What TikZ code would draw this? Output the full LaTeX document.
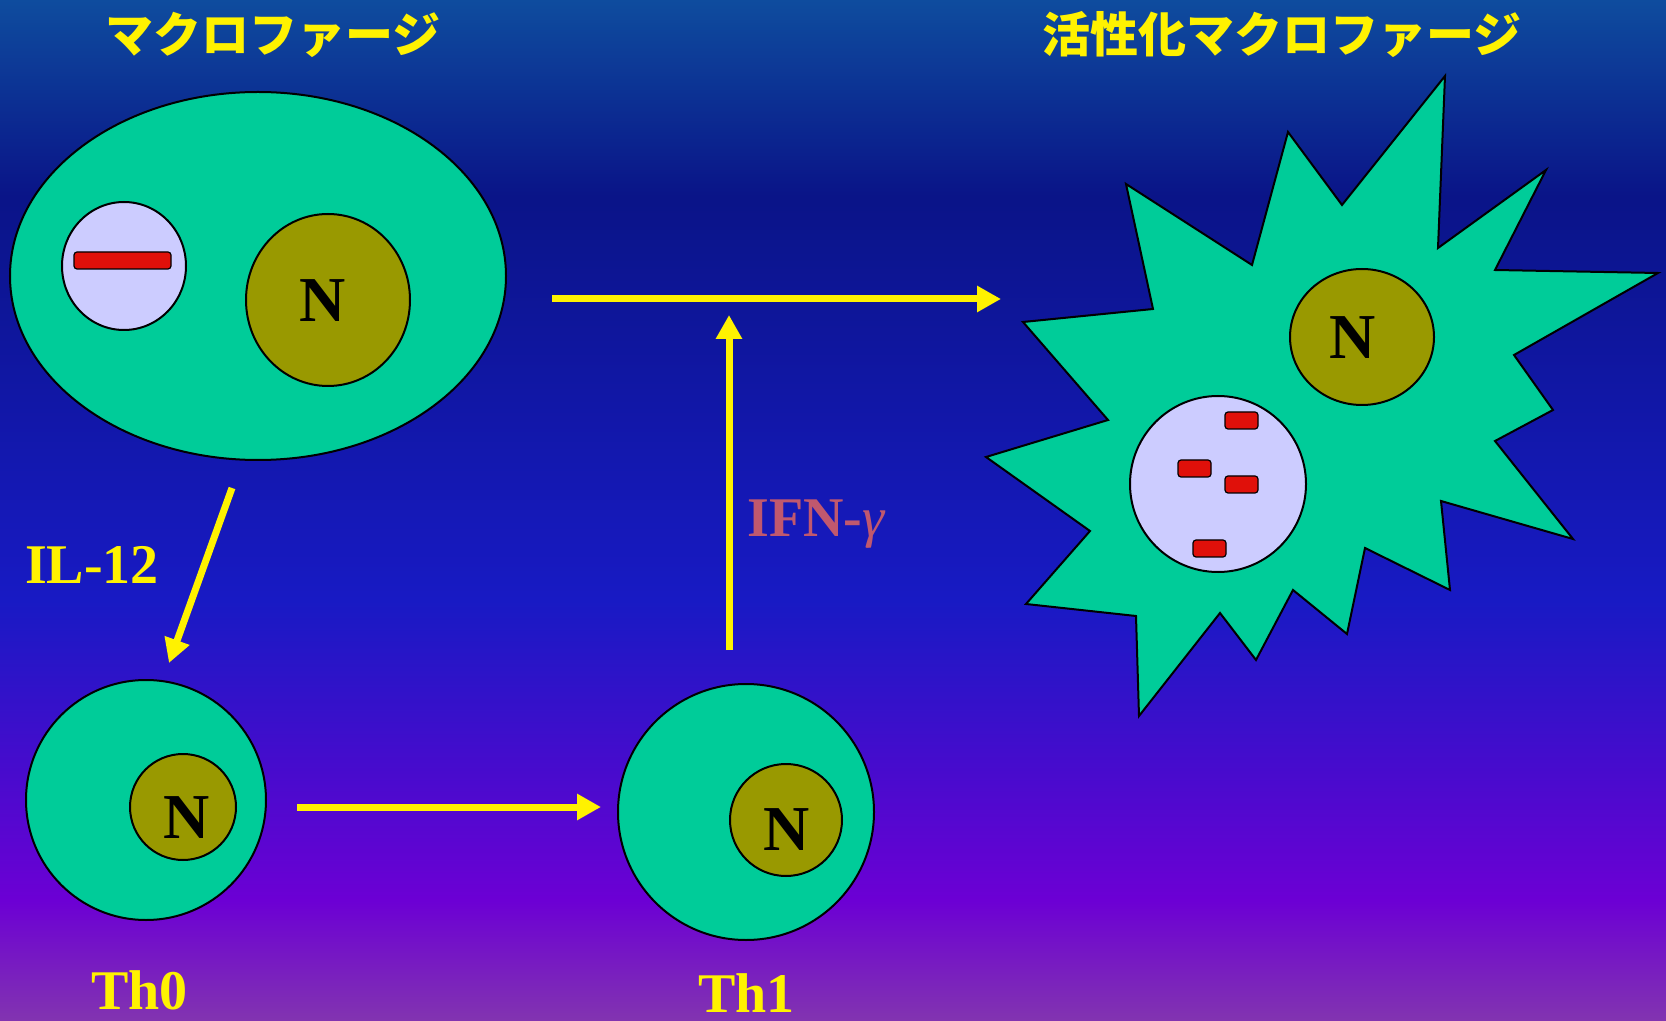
\documentclass[tikz,border=0pt]{standalone}
\usepackage{fontspec}
\setmainfont{Liberation Serif}
\newfontfamily\jpfont{Noto Sans CJK JP}
\usetikzlibrary{shapes.geometric,arrows.meta}

\definecolor{cellgreen}{RGB}{0,204,153}
\definecolor{nucolive}{RGB}{153,153,0}
\definecolor{vaclav}{RGB}{204,204,255}
\definecolor{bactred}{RGB}{224,16,10}
\definecolor{ifnrose}{RGB}{192,88,110}
\definecolor{bgtop}{RGB}{14,76,158}
\definecolor{bgnavy}{RGB}{10,20,136}
\definecolor{bgblue}{RGB}{24,26,196}
\definecolor{bgviolet}{RGB}{108,0,212}
\definecolor{bgbottom}{RGB}{130,52,176}

% slide background, 25bp = bottom edge, 75bp = top edge
\pgfdeclareverticalshading{slidebg}{100bp}{color(0bp)=(bgbottom); color(25bp)=(bgbottom);
  color(30.9bp)=(bgviolet); color(45.6bp)=(bgblue); color(65.4bp)=(bgnavy);
  color(75bp)=(bgtop); color(100bp)=(bgtop)}

\begin{document}
\begin{tikzpicture}[x=0.5pt,y=-0.5pt,
  cell/.style={draw=black,line width=1pt,fill=cellgreen,inner sep=0pt},
  nucleus/.style={draw=black,line width=1pt,fill=nucolive,inner sep=0pt},
  vacuole/.style={draw=black,line width=1pt,fill=vaclav,inner sep=0pt},
  bact/.style={draw=black,line width=0.6pt,fill=bactred,rounded corners=1.5pt},
  nlabel/.style={inner sep=0pt,font=\fontsize{32}{36}\selectfont\bfseries},
  title/.style={inner sep=0pt,text=yellow,font=\jpfont\bfseries\fontsize{24}{28}\selectfont},
  cyto/.style={inner sep=0pt,text=yellow,font=\fontsize{28}{32}\selectfont\bfseries},
  signal/.style={draw=yellow,line width=3.5pt,-{Triangle[length=12pt,width=12.5pt]}}]

\shade[shading=slidebg] (0,0) rectangle (1666,1021);
\useasboundingbox (0,0) rectangle (1666,1021);

% titles
\node[title] (tmac) at (273,35) {マクロファージ};
\node[title] (tact) at (1282,35) {活性化マクロファージ};

% resting macrophage
\node[cell,ellipse,minimum width=248pt,minimum height=184pt] (mac) at (258,276) {};
\node[vacuole,ellipse,minimum width=62pt,minimum height=64pt] (macvac) at (124,266) {};
\draw[bact] (74,252) rectangle (171,269);
\node[nucleus,ellipse,minimum width=82pt,minimum height=86pt] (macnuc) at (328,300) {};
\node[nlabel] (macN) at (323,301) {N};

% activated macrophage
\draw[cell] (1445,76) -- (1438,248) -- (1546,170) -- (1495,270) -- (1658,273)
  -- (1514,355) -- (1553,410) -- (1495,441) -- (1573,539) -- (1441,501)
  -- (1450,590) -- (1365,548) -- (1347,634) -- (1293,590) -- (1256,660)
  -- (1220,613) -- (1139,716) -- (1136,616) -- (1026,604) -- (1090,531)
  -- (986,457) -- (1108,420) -- (1023,322) -- (1153,309) -- (1126,184)
  -- (1252,265) -- (1288,132) -- (1342,205) -- cycle;
\node[vacuole,circle,minimum size=88pt] (actvac) at (1218,484) {};
\foreach \x/\y in {1225/412,1178/460,1225/476,1193/540}
  \draw[bact] (\x,\y) rectangle ++(33,17);
\node[nucleus,ellipse,minimum width=72pt,minimum height=68pt] (actnuc) at (1362,337) {};
\node[nlabel] (actN) at (1353,338) {N};

% T cells
\node[cell,circle,minimum size=120pt] (th0) at (146,800) {};
\node[nucleus,circle,minimum size=53pt] (th0nuc) at (183,807) {};
\node[nlabel] (th0N) at (187,818) {N};

\node[cell,circle,minimum size=128pt] (th1) at (746,812) {};
\node[nucleus,circle,minimum size=56pt] (th1nuc) at (786,820) {};
\node[nlabel] (th1N) at (787,830) {N};

% labels
\node[cyto,anchor=base] (il12) at (92,583) {IL-12};
\node[cyto,text=ifnrose,anchor=base] (ifng) at (816,537) {IFN-{\mdseries\itshape γ}};
\node[cyto,anchor=base] (th0lbl) at (139.5,1009) {Th0};
\node[cyto,anchor=base] (th1lbl) at (746.5,1012) {Th1};

% arrow ends
\coordinate (actS) at (552,299);
\coordinate (actE) at (1001,299);
\coordinate (ifnS) at (729,650);
\coordinate (ifnE) at (729,315);
\coordinate (ilS) at (232,488);
\coordinate (ilE) at (169,663);
\coordinate (difS) at (297,807);
\coordinate (difE) at (601,807);

\draw[signal] (actS) -- (actE);
\draw[signal] (ifnS) -- (ifnE);
\draw[signal] (ilS) -- (ilE);
\draw[signal] (difS) -- (difE);

\end{tikzpicture}
\end{document}
